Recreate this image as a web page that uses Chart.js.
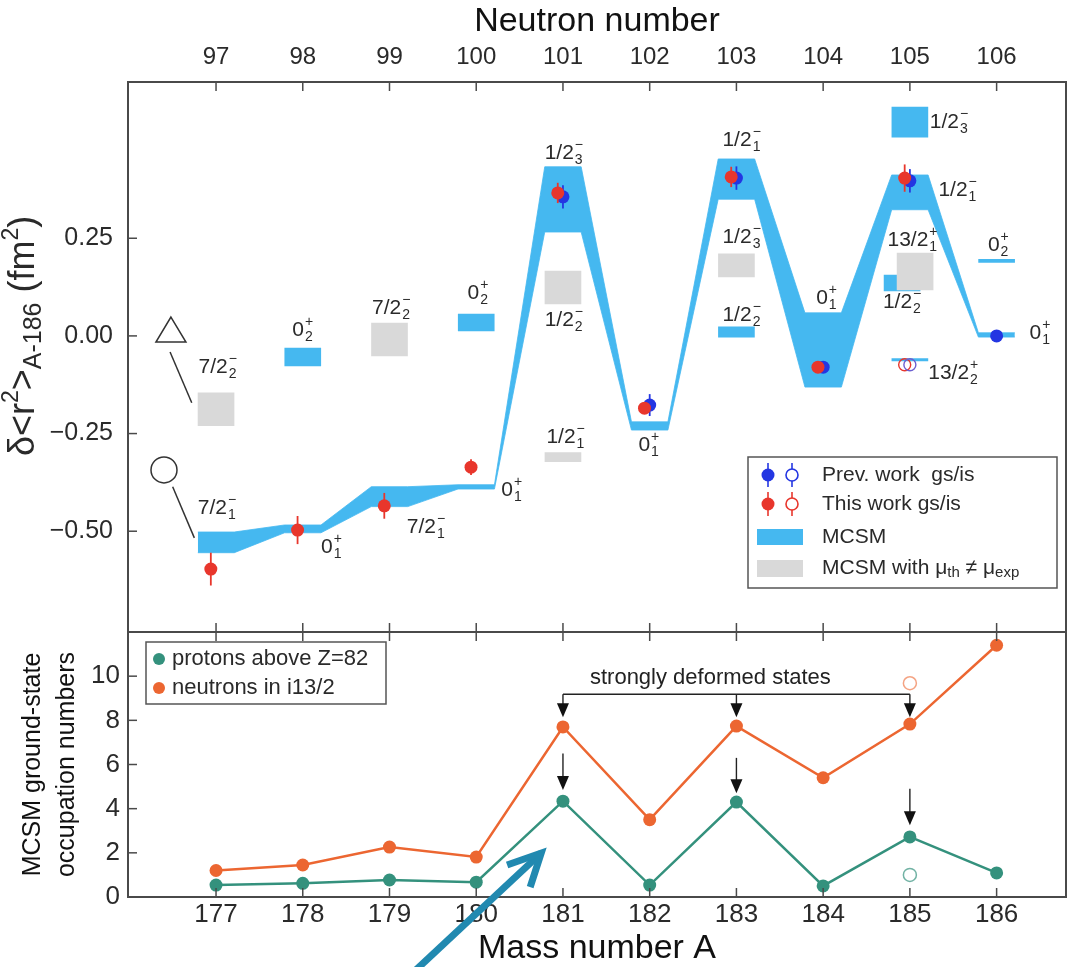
<!DOCTYPE html>
<html><head><meta charset="utf-8">
<script src="https://cdn.jsdelivr.net/npm/chart.js@4.4.0/dist/chart.umd.min.js"></script>
<style>
html,body{margin:0;padding:0;background:#fff;}
#wrap{position:relative;width:1069px;height:967px;overflow:hidden;background:#fff;}
canvas{position:absolute;left:0;}
#topc{top:0;}
#botc{top:630px;}
</style></head><body>
<div id="wrap"><canvas id="topc" width="1069" height="634"></canvas><canvas id="botc" width="1069" height="337"></canvas></div>
<script>
// ---------------- DATA ----------------
const neutronNumbers = [97, 98, 99, 100, 101, 102, 103, 104, 105, 106];
const massNumbers = [177, 178, 179, 180, 181, 182, 183, 184, 185, 186];
const topYTicks = [-0.50, -0.25, 0.00, 0.25];
const bottomYTicks = [0, 2, 4, 6, 8, 10];

// MCSM ground-state band (low / high) per neutron number
const mcsmLow  = [-0.555, -0.504, -0.437, -0.392, 0.266, -0.241, 0.350, -0.131, 0.323, -0.003];
const mcsmHigh = [-0.502, -0.484, -0.386, -0.381, 0.433, -0.220, 0.453,  0.059, 0.412,  0.008];

// other MCSM states (blue blocks)
const extraN    = [98, 100, 103, 105, 105, 105, 106];
const extraLow  = [-0.077, 0.013, -0.003, 0.509, 0.115, -0.064, 0.188];
const extraHigh = [-0.031, 0.056, 0.023, 0.586, 0.156, -0.058, 0.196];

// MCSM with mu_th != mu_exp (grey blocks)
const greyN    = [97, 99, 101, 101, 103, 105];
const greyLow  = [-0.230, -0.051, 0.082, -0.322, 0.151, 0.118];
const greyHigh = [-0.146, 0.033, 0.166, -0.299, 0.210, 0.212];

// experimental data
const thisWorkN   = [97, 98, 99, 100, 101, 102, 103, 104, 105];
const thisWorkVal = [-0.597, -0.497, -0.435, -0.336, 0.366, -0.185, 0.407, -0.080, 0.404];
const thisWorkErr = [0.042, 0.036, 0.033, 0.020, 0.026, 0.015, 0.026, 0.010, 0.035];
const prevWorkN   = [101, 102, 103, 104, 105, 106];
const prevWorkVal = [0.356, -0.177, 0.404, -0.080, 0.397, 0.000];
const prevWorkErr = [0.030, 0.028, 0.030, 0.010, 0.030, 0.004];
const isomerN = [105];
const thisWorkIsomer = [-0.074];
const prevWorkIsomer = [-0.074];

// state labels: [N, value, main, sub, sup]
const stateLabels = [
  [97.02, -0.080, '7/2', '2', '\u2212'],
  [98.00, 0.015, '0', '2', '+'],
  [99.02, 0.072, '7/2', '2', '\u2212'],
  [100.02, 0.110, '0', '2', '+'],
  [97.01, -0.440, '7/2', '1', '\u2212'],
  [98.33, -0.540, '0', '1', '+'],
  [99.42, -0.489, '7/2', '1', '\u2212'],
  [100.41, -0.394, '0', '1', '+'],
  [101.01, 0.468, '1/2', '3', '\u2212'],
  [101.01, 0.041, '1/2', '2', '\u2212'],
  [101.03, -0.259, '1/2', '1', '\u2212'],
  [101.99, -0.279, '0', '1', '+'],
  [103.06, 0.502, '1/2', '1', '\u2212'],
  [103.06, 0.253, '1/2', '3', '\u2212'],
  [103.06, 0.054, '1/2', '2', '\u2212'],
  [104.04, 0.097, '0', '1', '+'],
  [105.45, 0.548, '1/2', '3', '\u2212'],
  [105.55, 0.374, '1/2', '1', '\u2212'],
  [105.03, 0.246, '13/2', '1', '+'],
  [104.91, 0.087, '1/2', '2', '\u2212'],
  [105.50, -0.095, '13/2', '2', '+'],
  [106.02, 0.233, '0', '2', '+'],
  [106.50, 0.008, '0', '1', '+']
];

// occupation numbers
const protonsAboveZ82 = [0.54, 0.62, 0.77, 0.67, 4.34, 0.54, 4.30, 0.50, 2.72, 1.09];
const neutronsI132    = [1.20, 1.45, 2.26, 1.81, 7.70, 3.50, 7.74, 5.40, 7.83, 11.40];
const isomerA = [185];
const protonsIsomer = [1.00];
const neutronsIsomer = [9.68];

// annotations (bottom panel)
const deformedA = [181, 183, 185];
const bracketLevel = 9.18;
const bracketTip = 8.14;
const lowerArrowFrom = [6.5, 6.3, 4.9];
const lowerArrowTo = [4.85, 4.7, 3.25];

// ---------------- STYLE ----------------
const FONT = '"Liberation Sans", Arial, Helvetica, sans-serif';
const BLUE = '#45b8f0';
const GREY = '#d9d9d9';
const RED = '#e8362c';
const PBLUE = '#2436e2';
const TEAL = '#34917d';
const ORANGE = '#ec6631';
const FRAME = '#4a4a4a';
const TXT = '#2a2a2a';
const X_MIN = 95.985, X_MAX = 106.80;
const FLAT = 0.21;           // half width of a flat MCSM level
const THIS_SHIFT = -0.06;    // small horizontal offset of red points
const extraShift = [0, 0, 0, 0, -0.09, 0, 0];
const greyShift  = [0, 0, 0, 0, 0, 0.06];

function fmtTop(v) {
  const s = Math.abs(v).toFixed(2);
  return v < -1e-9 ? '\u2212' + s : s;
}
function noPad(s) { s.paddingLeft = 0; s.paddingRight = 0; s.paddingTop = 0; s.paddingBottom = 0; }

function drawRich(ctx, x, y, parts, align, rot) {
  ctx.save();
  ctx.translate(x, y);
  if (rot) ctx.rotate(rot);
  ctx.textBaseline = 'middle';
  ctx.textAlign = 'left';
  let w = 0;
  parts.forEach(p => { ctx.font = p.s + 'px ' + FONT; p.w = ctx.measureText(p.t).width; w += p.w; });
  let cx = align === 'center' ? -w / 2 : (align === 'right' ? -w : 0);
  parts.forEach(p => {
    ctx.font = p.s + 'px ' + FONT;
    ctx.fillStyle = p.c || TXT;
    ctx.fillText(p.t, cx, p.dy || 0);
    cx += p.w;
  });
  ctx.restore();
}

function drawState(ctx, x, y, main, sub, sup) {
  ctx.save();
  ctx.font = '21px ' + FONT;
  const mw = ctx.measureText(main).width;
  ctx.font = '14px ' + FONT;
  const sw = Math.max(ctx.measureText(sub).width, ctx.measureText(sup).width);
  const x0 = x - (mw + sw + 1) / 2;
  ctx.textAlign = 'left'; ctx.textBaseline = 'middle'; ctx.fillStyle = TXT;
  ctx.font = '21px ' + FONT;
  ctx.fillText(main, x0, y);
  ctx.font = '14px ' + FONT;
  ctx.fillText(sub, x0 + mw + 1, y + 7);
  ctx.fillText(sup, x0 + mw + 1, y - 8);
  ctx.restore();
}

function line(ctx, x1, y1, x2, y2) { ctx.beginPath(); ctx.moveTo(x1, y1); ctx.lineTo(x2, y2); ctx.stroke(); }

function frameAndTicks(chart, xTicks, yTicks, tl) {
  const { ctx, chartArea: a, scales: { x, y } } = chart;
  ctx.save();
  ctx.strokeStyle = FRAME;
  ctx.lineWidth = 1.5;
  xTicks.forEach(v => {
    const px = x.getPixelForValue(v);
    line(ctx, px, a.top, px, a.top + tl);
    line(ctx, px, a.bottom, px, a.bottom - tl);
  });
  yTicks.forEach(v => {
    const py = y.getPixelForValue(v);
    line(ctx, a.left, py, a.left + tl, py);
  });
  ctx.lineWidth = 2;
  ctx.strokeRect(a.left, a.top, a.right - a.left, a.bottom - a.top);
  ctx.restore();
}

function errSymbol(ctx, x, y, r, color, open, half) {
  ctx.save();
  ctx.strokeStyle = color; ctx.lineWidth = 1.6;
  line(ctx, x, y - half, x, y + half);
  ctx.beginPath(); ctx.arc(x, y, r, 0, Math.PI * 2);
  if (open) { ctx.fillStyle = '#fff'; ctx.fill(); ctx.stroke(); }
  else { ctx.fillStyle = color; ctx.fill(); }
  ctx.restore();
}

function drawErrBars(chart, nArr, vArr, eArr, shift, color) {
  const { ctx, scales: { x, y } } = chart;
  ctx.save();
  ctx.strokeStyle = color; ctx.lineWidth = 1.8;
  nArr.forEach((n, i) => {
    const px = x.getPixelForValue(n + shift);
    line(ctx, px, y.getPixelForValue(vArr[i] - eArr[i]), px, y.getPixelForValue(vArr[i] + eArr[i]));
  });
  ctx.restore();
}

// ---------------- TOP CHART ----------------
const bandUpper = [], bandLower = [];
neutronNumbers.forEach((n, i) => {
  bandUpper.push({ x: n - FLAT, y: mcsmHigh[i] }, { x: n + FLAT, y: mcsmHigh[i] });
  bandLower.push({ x: n - FLAT, y: mcsmLow[i] }, { x: n + FLAT, y: mcsmLow[i] });
});

const topPlugin = {
  id: 'topDecor',
  beforeDatasetDraw(chart, args) {
    const lbl = chart.data.datasets[args.index].label;
    if (lbl === 'Prev. work gs') drawErrBars(chart, prevWorkN, prevWorkVal, prevWorkErr, 0, PBLUE);
    if (lbl === 'This work gs') drawErrBars(chart, thisWorkN, thisWorkVal, thisWorkErr, THIS_SHIFT, RED);
  },
  afterDraw(chart) {
    const { ctx, chartArea: a, scales: { x, y } } = chart;
    stateLabels.forEach(s => drawState(ctx, x.getPixelForValue(s[0]), y.getPixelForValue(s[1]), s[2], s[3], s[4]));
    ctx.save();
    ctx.strokeStyle = '#333'; ctx.lineWidth = 1.5;
    const tx = x.getPixelForValue(96.48), ty = y.getPixelForValue(0.015);
    ctx.beginPath(); ctx.moveTo(tx, ty - 13); ctx.lineTo(tx + 15, ty + 12); ctx.lineTo(tx - 15, ty + 12); ctx.closePath(); ctx.stroke();
    line(ctx, x.getPixelForValue(96.47), y.getPixelForValue(-0.041), x.getPixelForValue(96.72), y.getPixelForValue(-0.171));
    const cx = x.getPixelForValue(96.40), cy = y.getPixelForValue(-0.343);
    ctx.beginPath(); ctx.arc(cx, cy, 13, 0, Math.PI * 2); ctx.stroke();
    line(ctx, x.getPixelForValue(96.50), y.getPixelForValue(-0.386), x.getPixelForValue(96.75), y.getPixelForValue(-0.517));
    ctx.restore();
    frameAndTicks(chart, neutronNumbers, topYTicks, 9);
    // y title
    drawRich(ctx, a.left - 104, y.getPixelForValue(0), [
      { t: '\u03b4<r', s: 36 }, { t: '2', s: 23, dy: -12 }, { t: '>', s: 36 },
      { t: 'A-186', s: 25, dy: 10 }, { t: ' (fm', s: 36 }, { t: '2', s: 23, dy: -12 }, { t: ')', s: 36 }
    ], 'center', -Math.PI / 2);
    // legend
    const L = { x: a.right - 318, y: a.top + 375, w: 309, h: 131 };
    ctx.save();
    ctx.fillStyle = '#fff'; ctx.fillRect(L.x, L.y, L.w, L.h);
    ctx.strokeStyle = '#555'; ctx.lineWidth = 1.5; ctx.strokeRect(L.x, L.y, L.w, L.h);
    ctx.restore();
    const rows = [L.y + 18, L.y + 47, L.y + 80, L.y + 111];
    errSymbol(ctx, L.x + 20, rows[0], 6.5, PBLUE, false, 12);
    errSymbol(ctx, L.x + 44, rows[0], 6, PBLUE, true, 12);
    errSymbol(ctx, L.x + 20, rows[1], 6.5, RED, false, 12);
    errSymbol(ctx, L.x + 44, rows[1], 6, RED, true, 12);
    ctx.save();
    ctx.fillStyle = BLUE; ctx.fillRect(L.x + 9, rows[2] - 8, 46, 16);
    ctx.fillStyle = GREY; ctx.fillRect(L.x + 9, rows[3] - 8, 46, 17);
    ctx.restore();
    drawRich(ctx, L.x + 74, rows[0], [{ t: 'Prev. work  gs/is', s: 21 }], 'left');
    drawRich(ctx, L.x + 74, rows[1], [{ t: 'This work gs/is', s: 21 }], 'left');
    drawRich(ctx, L.x + 74, rows[2], [{ t: 'MCSM', s: 21 }], 'left');
    drawRich(ctx, L.x + 74, rows[3], [
      { t: 'MCSM with \u03bc', s: 21 }, { t: 'th', s: 15, dy: 5 }, { t: ' \u2260 \u03bc', s: 21 }, { t: 'exp', s: 15, dy: 5 }
    ], 'left');
  }
};

const topChart = new Chart(document.getElementById('topc'), {
  type: 'scatter',
  data: {
    datasets: [
      { type: 'line', label: 'MCSM upper', data: bandUpper, borderColor: BLUE, borderWidth: 0.8, pointRadius: 0, fill: false, tension: 0, order: 60 },
      { type: 'line', label: 'MCSM', data: bandLower, borderColor: BLUE, borderWidth: 0.8, pointRadius: 0, fill: '-1', backgroundColor: BLUE, tension: 0, order: 59 },
      { type: 'bar', label: 'MCSM other', data: extraN.map((n, i) => ({ x: n + extraShift[i], y: [extraLow[i], extraHigh[i]] })), backgroundColor: BLUE, barThickness: 36, grouped: false, order: 50 },
      { type: 'bar', label: 'MCSM mu', data: greyN.map((n, i) => ({ x: n + greyShift[i], y: [greyLow[i], greyHigh[i]] })), backgroundColor: GREY, barThickness: 36, grouped: false, order: 45 },
      { label: 'Prev. work gs', data: prevWorkN.map((n, i) => ({ x: n, y: prevWorkVal[i] })), backgroundColor: PBLUE, borderColor: PBLUE, pointRadius: 6.5, borderWidth: 0, order: 20 },
      { label: 'This work gs', data: thisWorkN.map((n, i) => ({ x: n + THIS_SHIFT, y: thisWorkVal[i] })), backgroundColor: RED, borderColor: RED, pointRadius: 6.5, borderWidth: 0, order: 10 },
      { label: 'This work is', data: isomerN.map((n, i) => ({ x: n + THIS_SHIFT, y: thisWorkIsomer[i] })), backgroundColor: 'rgba(255,255,255,0)', borderColor: RED, pointRadius: 6, borderWidth: 1.4, order: 8 },
      { label: 'Prev. work is', data: isomerN.map((n, i) => ({ x: n, y: prevWorkIsomer[i] })), backgroundColor: 'rgba(255,255,255,0)', borderColor: '#6b5fd0', pointRadius: 6, borderWidth: 1.4, order: 7 }
    ]
  },
  options: {
    responsive: false, animation: false, devicePixelRatio: 1, events: [],
    layout: { autoPadding: false, padding: { left: 0, right: 3, top: 0, bottom: 2 } },
    plugins: { legend: { display: false }, tooltip: { enabled: false } },
    scales: {
      x: {
        type: 'linear', position: 'top', min: X_MIN, max: X_MAX, offset: false,
        grid: { display: false, drawTicks: false }, border: { display: false },
        afterBuildTicks: s => { s.ticks = neutronNumbers.map(v => ({ value: v })); },
        afterFit: s => { s.height = 82; noPad(s); },
        ticks: { autoSkip: false, maxRotation: 0, minRotation: 0, padding: 10, color: TXT, font: { family: FONT, size: 24 }, callback: v => String(v) },
        title: { display: true, text: 'Neutron number', color: '#111', font: { family: FONT, size: 34, lineHeight: 1.15 }, padding: { top: 2, bottom: 0 } }
      },
      y: {
        type: 'linear', min: -0.758, max: 0.650,
        grid: { display: false, drawTicks: false }, border: { display: false },
        afterBuildTicks: s => { s.ticks = topYTicks.map(v => ({ value: v })); },
        afterFit: s => { s.width = 128; noPad(s); },
        ticks: { padding: 15, color: TXT, font: { family: FONT, size: 25 }, callback: v => fmtTop(v) }
      }
    }
  },
  plugins: [topPlugin]
});

// ---------------- BOTTOM CHART ----------------
const botPlugin = {
  id: 'botDecor',
  afterDraw(chart) {
    const { ctx, chartArea: a, scales: { x, y } } = chart;
    frameAndTicks(chart, massNumbers, bottomYTicks, 9);
    const L = { x: a.left + 18, y: a.top + 10, w: 240, h: 62 };
    ctx.save();
    ctx.strokeStyle = '#555'; ctx.lineWidth = 1.5; ctx.strokeRect(L.x, L.y, L.w, L.h);
    ctx.fillStyle = TEAL; ctx.beginPath(); ctx.arc(L.x + 13, L.y + 17, 6, 0, Math.PI * 2); ctx.fill();
    ctx.fillStyle = ORANGE; ctx.beginPath(); ctx.arc(L.x + 13, L.y + 46, 6, 0, Math.PI * 2); ctx.fill();
    ctx.restore();
    drawRich(ctx, L.x + 26, L.y + 17, [{ t: 'protons above Z=82', s: 22 }], 'left');
    drawRich(ctx, L.x + 26, L.y + 46, [{ t: 'neutrons in i13/2', s: 22 }], 'left');
    ctx.save();
    ctx.strokeStyle = '#222'; ctx.fillStyle = '#111'; ctx.lineWidth = 1.4;
    const by = y.getPixelForValue(bracketLevel);
    line(ctx, x.getPixelForValue(deformedA[0]), by, x.getPixelForValue(deformedA[deformedA.length - 1]), by);
    const arrow = (a0, v1, v2) => {
      const px = x.getPixelForValue(a0), y1 = y.getPixelForValue(v1), y2 = y.getPixelForValue(v2);
      line(ctx, px, y1, px, y2 - 12);
      ctx.beginPath(); ctx.moveTo(px, y2); ctx.lineTo(px - 6, y2 - 14); ctx.lineTo(px + 6, y2 - 14); ctx.closePath(); ctx.fill();
    };
    deformedA.forEach((a0, i) => {
      arrow(a0, bracketLevel, bracketTip);
      arrow(a0, lowerArrowFrom[i], lowerArrowTo[i]);
    });
    ctx.restore();
    drawRich(ctx, x.getPixelForValue(182.70), y.getPixelForValue(9.91), [{ t: 'strongly deformed states', s: 22, c: '#222' }], 'center');
    ctx.save();
    ctx.strokeStyle = '#2189b0'; ctx.lineWidth = 7; ctx.lineCap = 'butt'; ctx.lineJoin = 'miter';
    const tipX = x.getPixelForValue(180.749), tipY = y.getPixelForValue(1.99);
    line(ctx, x.getPixelForValue(179.18), y.getPixelForValue(-3.76), tipX, tipY);
    ctx.beginPath();
    ctx.moveTo(x.getPixelForValue(180.356), y.getPixelForValue(1.45));
    ctx.lineTo(tipX, tipY);
    ctx.lineTo(x.getPixelForValue(180.622), y.getPixelForValue(0.45));
    ctx.stroke();
    ctx.restore();
  }
};

const botChart = new Chart(document.getElementById('botc'), {
  type: 'line',
  data: {
    datasets: [
      { label: 'neutrons in i13/2', data: massNumbers.map((m, i) => ({ x: m, y: neutronsI132[i] })), borderColor: ORANGE, backgroundColor: ORANGE, borderWidth: 2.5, pointRadius: 6.5, pointBorderWidth: 0, tension: 0, order: 2 },
      { label: 'protons above Z=82', data: massNumbers.map((m, i) => ({ x: m, y: protonsAboveZ82[i] })), borderColor: TEAL, backgroundColor: TEAL, borderWidth: 2.5, pointRadius: 6.5, pointBorderWidth: 0, tension: 0, order: 1 },
      { type: 'scatter', label: 'neutrons isomer', data: isomerA.map((m, i) => ({ x: m, y: neutronsIsomer[i] })), borderColor: 'rgba(236,102,49,0.6)', backgroundColor: 'rgba(255,255,255,0)', pointRadius: 6.5, borderWidth: 1.5, order: 0 },
      { type: 'scatter', label: 'protons isomer', data: isomerA.map((m, i) => ({ x: m, y: protonsIsomer[i] })), borderColor: 'rgba(52,145,125,0.7)', backgroundColor: 'rgba(255,255,255,0)', pointRadius: 6.5, borderWidth: 1.5, order: 0 }
    ]
  },
  options: {
    responsive: false, animation: false, devicePixelRatio: 1, events: [],
    layout: { autoPadding: false, padding: { left: 0, right: 3, top: 2, bottom: 0 } },
    plugins: { legend: { display: false }, tooltip: { enabled: false } },
    scales: {
      x: {
        type: 'linear', position: 'bottom', min: X_MIN + 80, max: X_MAX + 80, offset: false,
        grid: { display: false, drawTicks: false }, border: { display: false },
        afterBuildTicks: s => { s.ticks = massNumbers.map(v => ({ value: v })); },
        afterFit: s => { s.height = 70; noPad(s); },
        ticks: { autoSkip: false, maxRotation: 0, minRotation: 0, padding: 2, color: TXT, font: { family: FONT, size: 26 }, callback: v => String(v) },
        title: { display: true, text: 'Mass number A', color: '#111', font: { family: FONT, size: 34, lineHeight: 1.0 }, padding: { top: 0, bottom: 1 } }
      },
      y: {
        type: 'linear', min: 0, max: 12,
        grid: { display: false, drawTicks: false }, border: { display: false },
        afterBuildTicks: s => { s.ticks = bottomYTicks.map(v => ({ value: v })); },
        afterFit: s => { s.width = 128; noPad(s); },
        ticks: { padding: 8, color: TXT, font: { family: FONT, size: 26 }, callback: v => String(v) },
        title: { display: true, text: ['MCSM ground-state', 'occupation numbers'], color: '#111', font: { family: FONT, size: 25, lineHeight: 1.35 }, padding: { top: 16, bottom: 0 } }
      }
    }
  },
  plugins: [botPlugin]
});
</script>
</body></html>
